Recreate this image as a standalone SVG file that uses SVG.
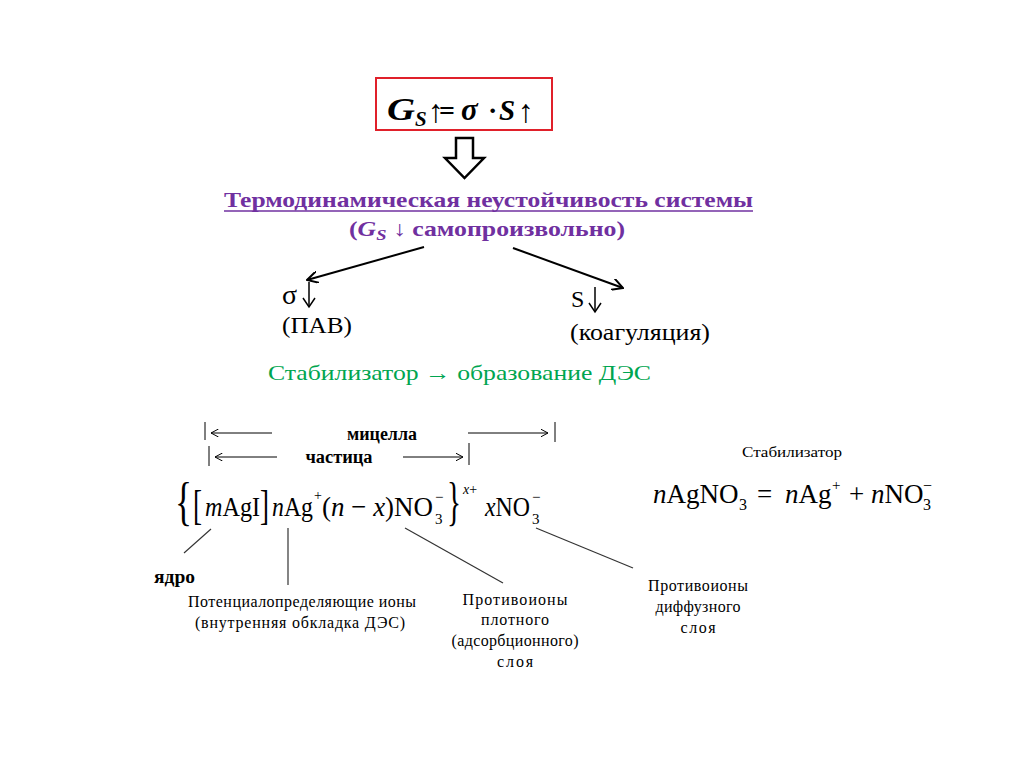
<svg xmlns="http://www.w3.org/2000/svg" width="1024" height="768" viewBox="0 0 1024 768" font-family="Liberation Serif, serif">
<defs>
<style>
.purple{fill:#7030a0;font-weight:bold;font-size:21px;}
.green{fill:#00a550;font-size:22px;}
.lbl{font-size:16px;fill:#000;}
.f{font-size:28px;fill:#000;}
.g{font-size:27px;fill:#000;}
.it{font-style:italic;}
.ln{stroke:#333;stroke-width:1.2;fill:none;}
.ar{stroke:#000;stroke-width:2;fill:none;}
.thin{stroke:#000;stroke-width:1;fill:none;}
</style>
<marker id="ah" viewBox="0 0 12 12" refX="11" refY="6" markerWidth="12" markerHeight="12" markerUnits="userSpaceOnUse" orient="auto">
<path d="M0,0 L11,6 L0,12" fill="none" stroke="#000" stroke-width="2"/>
</marker>
<marker id="sh" viewBox="0 0 8 8" refX="7.5" refY="4" markerWidth="8" markerHeight="8" markerUnits="userSpaceOnUse" orient="auto">
<path d="M0,0 L7.5,4 L0,8" fill="none" stroke="#000" stroke-width="1"/>
</marker>
</defs>
<rect width="1024" height="768" fill="#fff"/>

<g id="energy-box">
<rect x="376" y="78" width="176" height="52" fill="#fff" stroke="#e0202a" stroke-width="2"/>
<text x="387" y="120" font-size="32" font-weight="bold" font-style="italic" textLength="28" lengthAdjust="spacingAndGlyphs">G</text>
<text x="415" y="126" font-size="21" font-weight="bold" font-style="italic">S</text>
<text x="428" y="122" font-size="32">↑</text>
<text x="439" y="120" font-size="28" font-weight="bold">=</text>
<text x="461" y="120" font-size="31" font-weight="bold" font-style="italic">σ</text>
<text x="488" y="120" font-size="28" font-weight="bold">·</text>
<text x="499" y="120" font-size="29" font-weight="bold" font-style="italic">S</text>
<text x="518" y="122" font-size="32">↑</text>
</g>

<g id="hollow-arrow">
<path d="M456,138 L473,138 L473,158 L484,158 L464.5,178 L445,158 L456,158 Z" fill="#fff" stroke="#000" stroke-width="2.5" stroke-linejoin="miter"/>
</g>

<g id="instability">
<text class="purple" x="224" y="207" textLength="529" lengthAdjust="spacingAndGlyphs">Термодинамическая неустойчивость системы</text>
<line x1="224" y1="211" x2="753" y2="211" stroke="#7030a0" stroke-width="1.5"/>
<text class="purple" x="349" y="236" textLength="276" lengthAdjust="spacingAndGlyphs">(<tspan font-style="italic">G</tspan><tspan font-style="italic" font-size="15" dy="4">S</tspan><tspan dy="-4"> ↓ самопроизвольно)</tspan></text>
</g>

<g id="connectors">
<line class="ar" x1="424" y1="247" x2="307" y2="280" marker-end="url(#ah)"/>
<line class="ar" x1="513" y1="248" x2="623" y2="288" marker-end="url(#ah)"/>
<line class="ln" x1="211" y1="529" x2="184" y2="553"/>
<line class="ln" x1="288" y1="528" x2="288" y2="585"/>
<line class="ln" x1="405" y1="528" x2="503" y2="583"/>
<line class="ln" x1="536" y1="528" x2="633" y2="568"/>
</g>

<g id="sigma">
<text x="282" y="304" font-size="28">σ</text>
<line x1="309" y1="282" x2="309" y2="306" stroke="#000" stroke-width="1.5"/>
<path d="M303,298 L309,307 L315,298" fill="none" stroke="#000" stroke-width="1.5"/>
<text x="282" y="333" font-size="23" textLength="70" lengthAdjust="spacingAndGlyphs">(ПАВ)</text>
</g>

<g id="area">
<text x="571" y="307" font-size="24">S</text>
<line x1="595" y1="287" x2="595" y2="311" stroke="#000" stroke-width="1.5"/>
<path d="M589,303 L595,312 L601,303" fill="none" stroke="#000" stroke-width="1.5"/>
<text x="570" y="340" font-size="23" textLength="140" lengthAdjust="spacingAndGlyphs">(коагуляция)</text>
</g>

<g id="stabilizer-line">
<text class="green" x="268" y="380" textLength="383" lengthAdjust="spacingAndGlyphs">Стабилизатор → образование ДЭС</text>
</g>

<g id="micelle-scale">
<line class="thin" x1="205" y1="422" x2="205" y2="440"/>
<line class="thin" x1="272" y1="433" x2="211" y2="433" marker-end="url(#sh)"/>
<text x="382" y="440" font-size="18" font-weight="bold" text-anchor="middle" textLength="70" lengthAdjust="spacingAndGlyphs">мицелла</text>
<line class="thin" x1="468" y1="433" x2="548" y2="433" marker-end="url(#sh)"/>
<line class="thin" x1="555" y1="422" x2="555" y2="442"/>
<line class="thin" x1="209" y1="446" x2="209" y2="466"/>
<line class="thin" x1="277" y1="457" x2="215" y2="457" marker-end="url(#sh)"/>
<text x="339" y="463" font-size="18" font-weight="bold" text-anchor="middle" textLength="67" lengthAdjust="spacingAndGlyphs">частица</text>
<line class="thin" x1="403" y1="457" x2="463" y2="457" marker-end="url(#sh)"/>
<line class="thin" x1="469" y1="443" x2="469" y2="465"/>
</g>

<g id="micelle-formula">
<text x="175" y="519" font-size="52" textLength="17" lengthAdjust="spacingAndGlyphs">{</text>
<text x="193" y="519" font-size="42" textLength="9" lengthAdjust="spacingAndGlyphs">[</text>
<text class="f" x="205" y="516" textLength="55" lengthAdjust="spacingAndGlyphs"><tspan class="it">m</tspan>AgI</text>
<text x="260" y="519" font-size="42" textLength="9" lengthAdjust="spacingAndGlyphs">]</text>
<text class="f" x="272" y="516" textLength="41" lengthAdjust="spacingAndGlyphs"><tspan class="it">n</tspan>Ag</text>
<text x="314" y="500" font-size="14">+</text>
<text class="f" x="322" y="516" textLength="111" lengthAdjust="spacingAndGlyphs">(<tspan class="it">n</tspan> − <tspan class="it">x</tspan>)NO</text>
<text x="435" y="524" font-size="15">3</text>
<text x="435" y="502" font-size="15">−</text>
<text x="447" y="519" font-size="52" textLength="14" lengthAdjust="spacingAndGlyphs">}</text>
<text x="463" y="494" font-size="14"><tspan class="it">x</tspan>+</text>
<text class="f" x="485" y="516" textLength="45" lengthAdjust="spacingAndGlyphs"><tspan class="it">x</tspan>NO</text>
<text x="532" y="524" font-size="15">3</text>
<text x="532" y="502" font-size="15">−</text>
</g>

<g id="stabilizer-equation">
<text x="792" y="457" font-size="14" text-anchor="middle" textLength="100" lengthAdjust="spacingAndGlyphs">Стабилизатор</text>
<text class="g" x="653" y="503"><tspan class="it">n</tspan>AgNO</text>
<text x="739" y="510" font-size="16">3</text>
<text class="g" x="757" y="503">=</text>
<text class="g" x="785" y="503"><tspan class="it">n</tspan>Ag</text>
<text x="832" y="490" font-size="15">+</text>
<text class="g" x="849" y="503">+</text>
<text class="g" x="871" y="503"><tspan class="it">n</tspan>NO</text>
<text x="923" y="510" font-size="16">3</text>
<text x="923" y="491" font-size="16">−</text>
</g>

<g id="core-label">
<text x="154" y="583" font-size="18" font-weight="bold" textLength="41" lengthAdjust="spacingAndGlyphs">ядро</text>
</g>

<g id="potential-ions-label" class="lbl">
<text x="302" y="607" text-anchor="middle" textLength="228" lengthAdjust="spacing">Потенциалопределяющие ионы</text>
<text x="300" y="628" text-anchor="middle" textLength="210" lengthAdjust="spacing">(внутренняя обкладка ДЭС)</text>
</g>

<g id="dense-layer-label" class="lbl">
<text x="515" y="605" text-anchor="middle" textLength="105" lengthAdjust="spacing">Противоионы</text>
<text x="515" y="625" text-anchor="middle" textLength="68" lengthAdjust="spacing">плотного</text>
<text x="515" y="646" text-anchor="middle" textLength="127" lengthAdjust="spacing">(адсорбционного)</text>
<text x="515" y="667" text-anchor="middle" textLength="36" lengthAdjust="spacing">слоя</text>
</g>

<g id="diffuse-layer-label" class="lbl">
<text x="698" y="591" text-anchor="middle" textLength="100" lengthAdjust="spacing">Противоионы</text>
<text x="698" y="612" text-anchor="middle" textLength="85" lengthAdjust="spacing">диффузного</text>
<text x="698" y="633" text-anchor="middle" textLength="35" lengthAdjust="spacing">слоя</text>
</g>
</svg>
